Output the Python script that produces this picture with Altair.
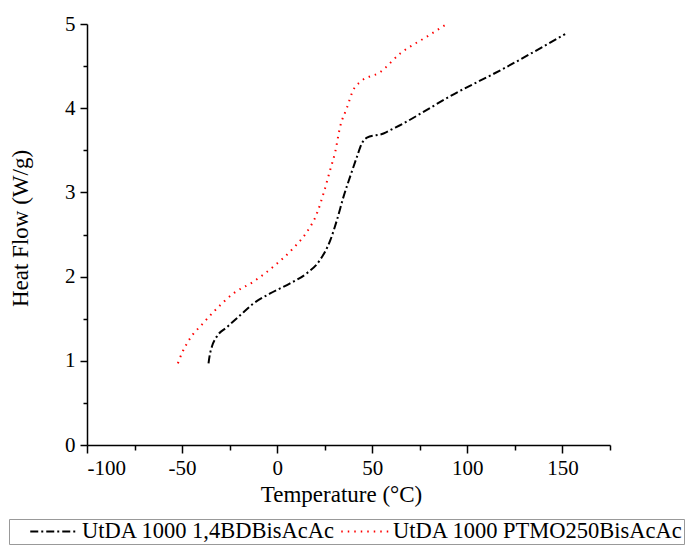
import altair as alt
import pandas as pd

series_a_name = "UtDA 1000 1,4BDBisAcAc"
series_b_name = "UtDA 1000 PTMO250BisAcAc"

a_temp = [-36.1, -35.6, -34.3, -31.7, -26.4, -19.5, -12.5, -3.7, 6.8, 15.6, 22.6, 27.9,
          31.4, 34.9, 38.4, 41.9, 44.5, 47.2, 55.9, 61.2, 66.4, 78.7, 89.2, 119.0, 151.4]
a_heat = [0.97, 1.05, 1.17, 1.29, 1.40, 1.54, 1.68, 1.80, 1.92, 2.04, 2.20, 2.43,
          2.67, 2.95, 3.19, 3.42, 3.58, 3.65, 3.70, 3.76, 3.82, 3.98, 4.12, 4.47, 4.88]

b_temp = [-52.2, -50.1, -45.7, -39.6, -33.5, -23.0, -12.5, -1.9, 8.6, 15.6, 20.9, 24.4,
          27.9, 30.5, 33.1, 36.6, 40.1, 43.6, 54.2, 64.7, 78.7, 89.2]
b_heat = [0.97, 1.09, 1.27, 1.43, 1.58, 1.80, 1.94, 2.12, 2.34, 2.53, 2.75, 2.99,
          3.27, 3.48, 3.78, 4.00, 4.22, 4.31, 4.43, 4.65, 4.85, 5.00]

x_major = [-100, -50, 0, 50, 100, 150]
x_minor = [-75, -25, 25, 75, 125, 175]
y_major = [0, 1, 2, 3, 4, 5]
y_minor = [0.5, 1.5, 2.5, 3.5, 4.5]

rows = []
for i, (t, h) in enumerate(zip(a_temp, a_heat)):
    rows.append({"series": series_a_name, "temp": t, "heat": h, "order": i})
for i, (t, h) in enumerate(zip(b_temp, b_heat)):
    rows.append({"series": series_b_name, "temp": t, "heat": h, "order": i})
df = pd.DataFrame(rows)

FONT = "Liberation Serif"
x_scale = alt.Scale(domain=[-100, 175], nice=False, zero=False)
y_scale = alt.Scale(domain=[0, 5], nice=False, zero=False)

legend = alt.Legend(
    orient="none", legendX=-78, legendY=495, direction="horizontal",
    title="\u00a0", titleOrient="left", titleFontSize=1, titlePadding=15,
    symbolType="M-1,0H7", symbolSize=144, symbolStrokeWidth=2, symbolOffset=0,
    labelOffset=34.5, labelFont=FONT, labelFontSize=22.5, labelColor="black", labelLimit=600,
    strokeColor="#999999", fillColor="white", padding=1, columnPadding=0,
)

hyphen_expr = "replace(datum.label, '\u2212', '-')"

lines = alt.Chart(df).mark_line(strokeWidth=2, interpolate="monotone").encode(
    x=alt.X("temp:Q", scale=x_scale, axis=alt.Axis(
        orient="bottom", values=x_major, tickSize=8, labelPadding=4, labelExpr=hyphen_expr,
        title="Temperature (°C)", titleX=254, titleY=56, titleBaseline="alphabetic",
        titleAlign="center", titleAnchor="start")),
    y=alt.Y("heat:Q", scale=y_scale, axis=alt.Axis(
        orient="left", values=y_major, tickSize=7, labelPadding=5,
        title="Heat Flow (W/g)", titleX=-60, titleY=204, titleAngle=270,
        titleBaseline="alphabetic", titleAlign="center", titleAnchor="start")),
    color=alt.Color("series:N", scale=alt.Scale(domain=[series_a_name, series_b_name],
                                                range=["black", "red"]), legend=legend),
    strokeDash=alt.StrokeDash("series:N", scale=alt.Scale(domain=[series_a_name, series_b_name],
                                                          range=[[8, 3, 2, 3], [1.5, 5]]), legend=legend),
    order="order:Q",
)

minor = alt.Chart(df).mark_point(opacity=0).encode(
    x=alt.X("temp:Q", scale=x_scale, axis=alt.Axis(
        orient="bottom", values=x_minor, tickSize=5, labels=False, domain=False, title=None)),
    y=alt.Y("heat:Q", scale=y_scale, axis=alt.Axis(
        orient="left", values=y_minor, tickSize=4, labels=False, domain=False, title=None)),
)

chart = alt.layer(lines, minor).resolve_scale(x="independent", y="independent").properties(
    width=523, height=421, autosize=alt.AutoSizeParams(type="none"),
    padding={"left": 87, "top": 24, "right": 76, "bottom": 100},
    background="white",
).configure_view(stroke=None).configure_axis(
    grid=False, domainColor="black", domainWidth=1.5, tickColor="black", tickWidth=1.5,
    labelFont=FONT, labelFontSize=21, labelColor="black",
    titleFont=FONT, titleFontSize=23, titleColor="black", titleFontWeight="normal",
)

chart.save("out.html", embed_options={"renderer": "svg", "actions": False})
